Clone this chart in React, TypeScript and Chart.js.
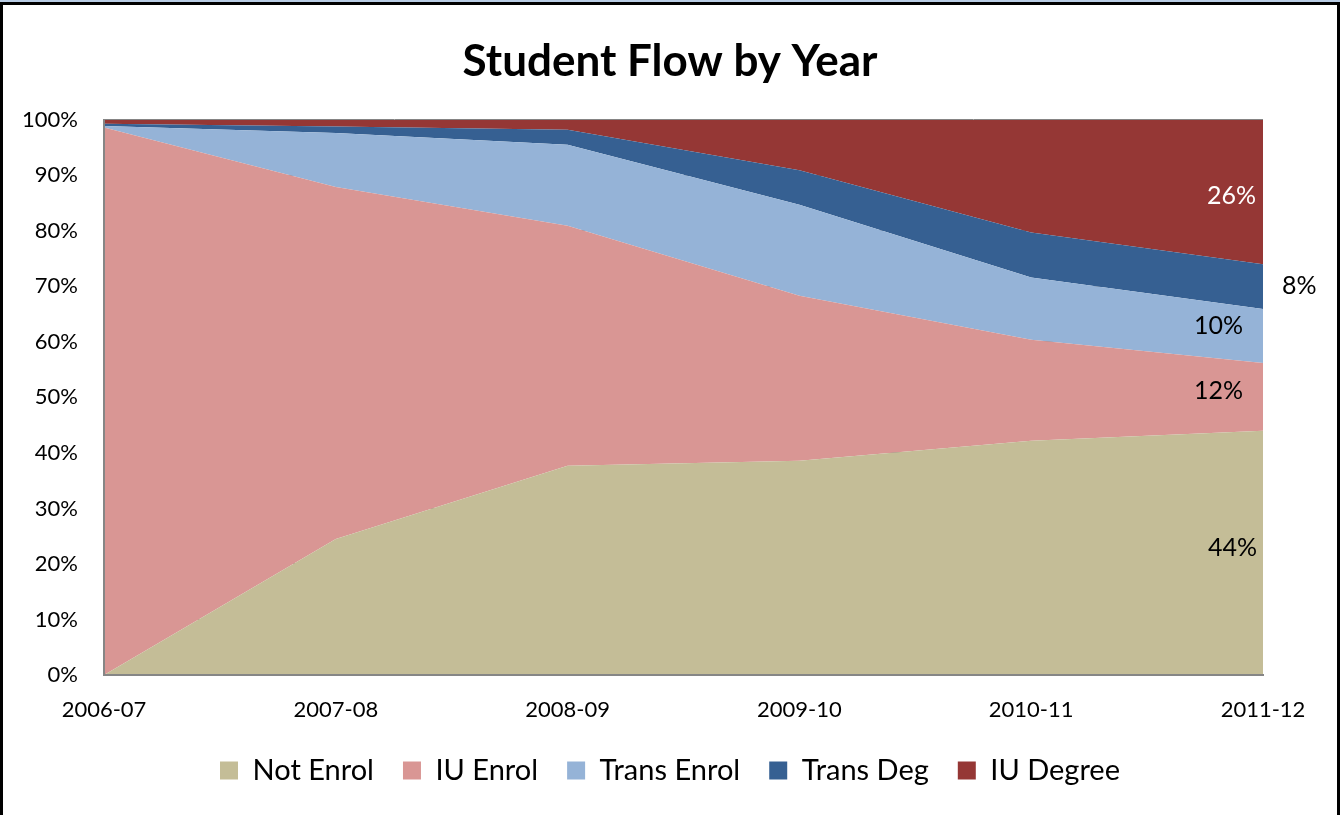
import React, { useEffect, useRef } from "react";
import { Chart, registerables } from "chart.js";

Chart.register(...registerables);

const FONT = "Lato, 'Open Sans', sans-serif";

const years = ["2006-07", "2007-08", "2008-09", "2009-10", "2010-11", "2011-12"];
const notEnrol = [0, 24.5, 37.7, 38.6, 42.2, 44.0];
const iuEnrol = [98.6, 63.4, 43.2, 29.7, 18.2, 12.2];
const transEnrol = [0.3, 9.7, 14.6, 16.4, 11.2, 9.7];
const transDeg = [0.4, 1.2, 2.7, 6.2, 8.1, 8.1];
const iuDegree = [0.7, 1.2, 1.8, 9.1, 20.3, 26.0];
const seriesNames = ["Not Enrol", "IU Enrol", "Trans Enrol", "Trans Deg", "IU Degree"];
const seriesColors = ["#C4BD97", "#D99694", "#95B3D7", "#366092", "#953735"];
const chartTitle = "Student Flow by Year";

// style for end labels (relative offsets from the plot's right edge)
const labelStyles = [
  { color: "#000", align: "right", dx: -6, dy: -5 },
  { color: "#000", align: "right", dx: -20, dy: -6 },
  { color: "#000", align: "right", dx: -20, dy: -10 },
  { color: "#000", align: "left", dx: 19, dy: -1 },
  { color: "#fff", align: "right", dx: -7, dy: 4 },
];

const endLabelPlugin = {
  id: "endLabels",
  afterDatasetsDraw(chart: any) {
    const { ctx, chartArea } = chart;
    const yScale = chart.scales.y;
    const last = years.length - 1;
    ctx.save();
    ctx.font = `25px ${FONT}`;
    ctx.textBaseline = "middle";
    let prevY = yScale.getPixelForValue(0);
    chart.data.datasets.forEach((ds: any, i: number) => {
      const meta = chart.getDatasetMeta(i);
      const pt = meta.data[last];
      const topY = pt.y;
      const mid = (topY + prevY) / 2;
      const txt = Math.round(ds.data[last]) + "%";
      const st = labelStyles[i];
      ctx.fillStyle = st.color;
      ctx.textAlign = st.align;
      ctx.fillText(txt, chartArea.right + st.dx, mid + st.dy);
      prevY = topY;
    });
    ctx.restore();
  },
};

export default function App() {
  const ref = useRef<HTMLCanvasElement | null>(null);

  useEffect(() => {
    if (!ref.current) return;
    Chart.defaults.font.family = FONT;
    Chart.defaults.color = "#000";
    const series = [notEnrol, iuEnrol, transEnrol, transDeg, iuDegree];
    const chart = new Chart(ref.current, {
      type: "line",
      data: {
        labels: years,
        datasets: series.map((d, i) => ({
          label: seriesNames[i],
          data: d,
          backgroundColor: seriesColors[i],
          borderColor: "rgba(0,0,0,0)",
          borderWidth: 1,
          pointRadius: 0,
          pointHoverRadius: 0,
          tension: 0,
          fill: i === 0 ? "origin" : "-1",
        })),
      },
      options: {
        responsive: false,
        animation: false,
        events: [],
        layout: { padding: { left: 0, right: 0, top: 0, bottom: 20 } },
        plugins: {
          title: {
            display: true,
            text: chartTitle,
            color: "#000",
            font: { size: 44, weight: "bold", family: FONT },
            padding: { top: 35, bottom: 32 },
          },
          legend: {
            position: "bottom",
            labels: {
              font: { size: 29, family: FONT },
              color: "#000",
              boxWidth: 18,
              boxHeight: 18,
              padding: 29,
            },
          },
          tooltip: { enabled: false },
        },
        scales: {
          x: {
            type: "category",
            offset: false,
            grid: { display: false, drawTicks: false },
            border: { display: true, color: "#868686", width: 2, z: 1 },
            ticks: { font: { size: 22, family: FONT }, color: "#000", padding: 22, maxRotation: 0 },
            afterFit: (s: any) => {
              s.height = 52;
            },
          },
          y: {
            stacked: true,
            min: 0,
            max: 100,
            grid: { display: true, color: "#868686", lineWidth: 1, drawTicks: false },
            border: { display: true, color: "#868686", width: 2, z: 1 },
            ticks: {
              stepSize: 10,
              padding: 26,
              font: { size: 22, family: FONT },
              color: "#000",
              callback: (v: any) => v + "%",
            },
            afterFit: (s: any) => {
              s.width = 104;
            },
          },
          y2: {
            type: "linear",
            position: "right",
            display: true,
            grid: { display: false, drawTicks: false },
            border: { display: false },
            ticks: { display: false },
            afterFit: (s: any) => {
              s.width = 77;
            },
          },
        },
      },
      plugins: [endLabelPlugin],
    } as any);
    return () => chart.destroy();
  }, []);

  return (
    <div style={{ position: "fixed", left: 0, top: 0, width: 1340, height: 815, background: "#fff" }}>
      <canvas ref={ref} width={1340} height={815} style={{ display: "block", position: "absolute", left: 0, top: 0 }} />
      <div
        style={{
          position: "absolute",
          left: 0,
          top: 0,
          width: 1340,
          height: 2,
          background: "#B8CCE4",
          pointerEvents: "none",
        }}
      />
      <div
        style={{
          position: "absolute",
          left: 0,
          top: 2,
          width: 1340,
          height: 813,
          boxSizing: "border-box",
          borderTop: "3px solid #000",
          borderLeft: "3px solid #000",
          borderRight: "3px solid #000",
          pointerEvents: "none",
        }}
      />
    </div>
  );
}
